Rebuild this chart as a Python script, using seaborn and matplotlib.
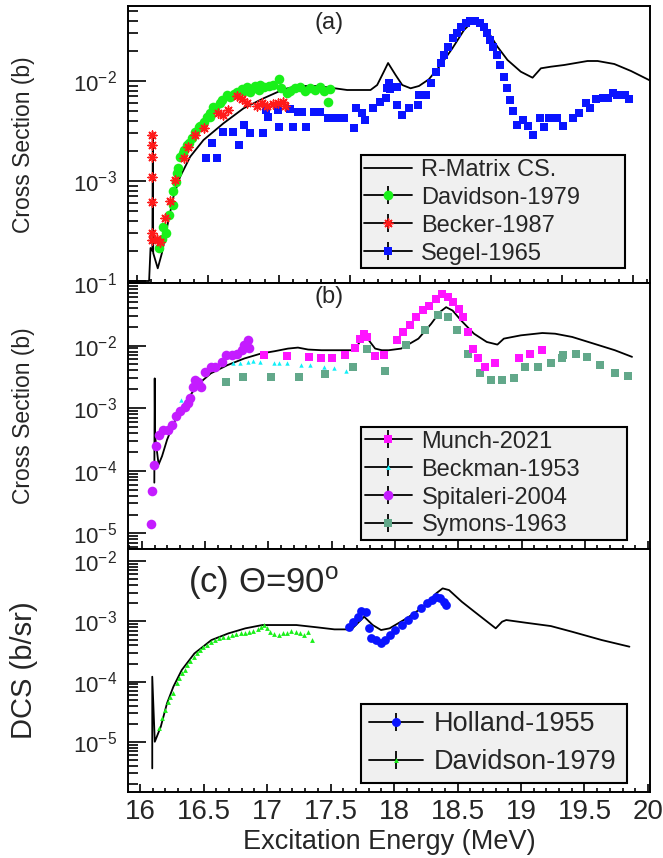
import numpy as np
import pandas as pd
import matplotlib
matplotlib.use("Agg")
import matplotlib.pyplot as plt
import seaborn as sns
from matplotlib.lines import Line2D
from matplotlib.legend_handler import HandlerTuple
from matplotlib.ticker import LogLocator, MultipleLocator, FuncFormatter, NullFormatter

# ---------------- data (energies in MeV, values as log10 of cross section) ----
# Panel (a)
rm_a_E = [15.94, 16.085, 16.095, 16.108, 16.111, 16.114, 16.146, 16.175, 16.222, 16.257, 16.304,
          16.375, 16.469, 16.610, 16.752, 16.893, 17.035, 17.129, 17.271, 17.365, 17.483, 17.648,
          17.695, 17.742, 17.772, 17.825, 17.872, 17.931, 17.99, 18.060, 18.143, 18.226, 18.308,
          18.367, 18.395, 18.438, 18.485, 18.544, 18.615, 18.709, 18.792, 18.851, 18.921, 19.015,
          19.180, 19.251, 19.369, 19.487, 19.628]
rm_a_log = [-4.0, -4.0, -3.67, -3.70, -2.52, -3.72, -3.873, -3.723, -3.39, -3.157, -2.957,
            -2.757, -2.59, -2.423, -2.273, -2.173, -2.083, -2.05, -2.05, -2.067, -2.09, -2.09,
            -2.04, -1.907, -1.82, -1.94, -2.04, -2.073, -2.05, -1.983, -1.84, -1.673, -1.49,
            -1.407, -1.39, -1.417, -1.523, -1.657, -1.79, -1.907, -1.967, -1.873, -1.857, -1.84,
            -1.80, -1.80, -1.83, -1.90, -2.0]

dav_a_E = [16.158, 16.175, 16.205, 16.186, 16.222, 16.252, 16.257, 16.276, 16.292, 16.304, 16.323,
           16.351, 16.387, 16.410, 16.434, 16.469, 16.493, 16.516, 16.552, 16.582, 16.634, 16.657,
           16.705, 16.740, 16.775, 16.811, 16.834, 16.870, 16.893, 16.929, 16.959, 16.999, 17.016,
           17.058, 17.082, 17.117, 17.153, 17.188, 17.223, 17.259, 17.294, 17.318, 17.346, 17.360,
           16.285, 16.332, 16.370, 16.446, 16.512, 16.535, 16.599, 16.681, 16.757, 16.794, 16.858]
dav_a_log = [-3.673, -3.583, -3.523, -3.457, -3.34, -3.24, -3.097, -3.007, -2.873, -2.757, -2.717,
             -2.64, -2.573, -2.507, -2.457, -2.407, -2.357, -2.317, -2.273, -2.217, -2.14, -2.163,
             -2.107, -2.083, -2.063, -2.083, -2.05, -2.04, -2.063, -2.05, -2.04, -1.983, -2.073,
             -2.123, -2.097, -2.073, -2.057, -2.097, -2.073, -2.09, -2.063, -2.097, -2.207, -2.083,
             -2.923, -2.69, -2.617, -2.45, -2.363, -2.263, -2.19, -2.13, -2.097, -2.107, -2.09]

bec_a_E = [16.104, 16.104, 16.104, 16.104, 16.104, 16.104, 16.104, 16.140, 16.164, 16.198, 16.233,
           16.269, 16.328, 16.363, 16.410, 16.469, 16.568, 16.606, 16.639, 16.705, 16.740, 16.775,
           16.846, 16.882, 16.917, 16.959, 16.992, 17.030, 17.047]
bec_a_log = [-2.54, -2.64, -2.757, -2.957, -3.207, -3.523, -3.59, -3.583, -3.607, -3.373, -3.197,
             -2.99, -2.773, -2.657, -2.54, -2.473, -2.323, -2.34, -2.29, -2.15, -2.183, -2.217,
             -2.25, -2.223, -2.25, -2.23, -2.217, -2.207, -2.25]

seg_a_E = [16.488, 16.563, 16.528, 16.606, 16.677, 16.717, 16.752, 16.794, 16.886, 16.912, 16.922,
           16.992, 16.999, 17.077, 17.101, 17.134, 17.167, 17.195, 17.247, 17.290, 17.346, 17.384,
           17.424, 17.459, 17.530, 17.549, 17.589, 17.608, 17.667, 17.714, 17.754, 17.761, 17.777,
           17.784, 17.836, 17.836, 17.872, 17.919, 17.982, 17.989, 18.037, 18.072, 18.107, 18.143,
           18.166, 18.195, 18.232, 18.261, 18.289, 18.320, 18.350, 18.383, 18.421, 18.449, 18.473,
           18.492, 18.515, 18.544, 18.563, 18.591, 18.615, 18.634, 18.657, 18.681, 18.721, 18.757,
           18.792, 18.846, 18.874, 18.910, 18.964, 19.004, 19.075, 19.122, 19.169, 19.200, 19.240,
           19.287, 19.322, 19.358, 19.389, 19.417, 19.445, 19.476]
seg_a_log = [-2.773, -2.773, -2.623, -2.507, -2.507, -2.64, -2.44, -2.523, -2.523, -2.29, -2.357,
             -2.29, -2.457, -2.283, -2.457, -2.307, -2.307, -2.457, -2.307, -2.307, -2.373, -2.373,
             -2.373, -2.373, -2.473, -2.273, -2.323, -2.39, -2.273, -2.207, -2.173, -2.073, -2.023,
             -2.083, -2.063, -2.24, -2.34, -2.273, -2.24, -2.14, -2.14, -2.023, -1.907, -1.823,
             -1.74, -1.657, -1.573, -1.523, -1.457, -1.417, -1.397, -1.397, -1.417, -1.457, -1.523,
             -1.59, -1.657, -1.74, -1.84, -1.957, -2.073, -2.19, -2.297, -2.44, -2.39, -2.45,
             -2.54, -2.373, -2.457, -2.373, -2.373, -2.45, -2.373, -2.323, -2.223, -2.273, -2.183,
             -2.173, -2.173, -2.123, -2.14, -2.14, -2.14, -2.183]

# Panel (b)
rm_b_E = [16.098, 16.101, 16.104, 16.132, 16.159, 16.199, 16.252, 16.305, 16.358, 16.438, 16.544,
          16.676, 16.809, 16.941, 17.048, 17.154, 17.233, 17.313, 17.419, 17.578, 17.657, 17.697,
          17.737, 17.764, 17.803, 17.843, 17.896, 17.95, 18.049, 18.185, 18.286, 18.353, 18.404,
          18.455, 18.522, 18.624, 18.725, 18.809, 18.86, 18.995, 19.164, 19.265, 19.40, 19.569,
          19.737, 19.873]
rm_b_log = [-4.19, -2.524, -3.45, -3.90, -3.767, -3.503, -3.238, -3.026, -2.868, -2.63, -2.444,
            -2.312, -2.206, -2.127, -2.09, -2.048, -2.032, -2.063, -2.074, -2.074, -2.074, -2.021,
            -1.889, -1.836, -1.942, -2.048, -2.074, -2.074, -2.048, -1.889, -1.651, -1.466, -1.386,
            -1.44, -1.598, -1.81, -1.942, -1.984, -1.889, -1.836, -1.799, -1.81, -1.862, -1.968,
            -2.074, -2.18]

mun_b_E = [16.968, 17.148, 17.318, 17.419, 17.504, 17.605, 17.684, 17.724, 17.751, 17.777, 17.838,
           17.910, 18.016, 18.066, 18.117, 18.168, 18.218, 18.269, 18.320, 18.371, 18.421, 18.461,
           18.505, 18.539, 18.573, 18.617, 18.657, 18.708, 18.792, 18.978, 19.063, 19.164]
mun_b_log = [-2.153, -2.169, -2.19, -2.206, -2.206, -2.153, -2.032, -1.889, -1.81, -1.862, -2.169,
             -2.153, -1.916, -1.782, -1.677, -1.544, -1.439, -1.36, -1.254, -1.175, -1.228, -1.307,
             -1.413, -1.544, -1.782, -2.048, -2.206, -2.339, -2.286, -2.206, -2.127, -2.074]

bkm_b_E = [16.31, 16.721, 16.774, 16.841, 16.88, 16.935, 17.041, 17.08, 17.15, 17.26, 17.33,
           17.44, 17.52, 17.616]
bkm_b_log = [-2.868, -2.286, -2.286, -2.259, -2.243, -2.259, -2.275, -2.286, -2.286, -2.312,
             -2.312, -2.339, -2.365, -2.402]

spi_b_E = [16.070, 16.083, 16.097, 16.110, 16.137, 16.164, 16.204, 16.236, 16.27, 16.297, 16.337,
           16.363, 16.376, 16.403, 16.416, 16.443, 16.469, 16.496, 16.549, 16.576, 16.629, 16.668,
           16.708, 16.748, 16.788, 16.809, 16.841, 16.847]
spi_b_log = [-4.852, -4.323, -3.915, -3.598, -3.423, -3.344, -3.344, -3.265, -3.132, -3.053, -2.974,
             -2.921, -2.841, -2.656, -2.55, -2.577, -2.656, -2.418, -2.339, -2.339, -2.259, -2.153,
             -2.153, -2.138, -2.074, -1.995, -1.915, -2.032]

sym_b_E = [16.668, 16.80, 17.021, 17.239, 17.446, 17.671, 17.777, 17.918, 18.083, 18.235, 18.336,
           18.421, 18.488, 18.573, 18.674, 18.758, 18.843, 18.944, 19.029, 19.13, 19.231, 19.316,
           19.33, 19.434, 19.519, 19.62, 19.737, 19.839]
sym_b_log = [-2.577, -2.497, -2.497, -2.497, -2.455, -2.339, -2.048, -2.402, -1.995, -1.757, -1.508,
             -1.544, -1.757, -2.127, -2.444, -2.55, -2.55, -2.524, -2.339, -2.339, -2.286, -2.206,
             -2.153, -2.127, -2.19, -2.312, -2.434, -2.487]

# Panel (c)
rm_c_E = [16.096, 16.096, 16.116, 16.163, 16.212, 16.262, 16.328, 16.428, 16.562, 16.695, 16.829,
          16.963, 17.231, 17.398, 17.531, 17.665, 17.765, 17.832, 17.898, 17.965, 18.099, 18.233,
          18.332, 18.383, 18.433, 18.534, 18.634, 18.801, 18.851, 18.884, 19.035, 19.235, 19.402,
          19.636, 19.854]
rm_c_log = [-5.438, -3.918, -4.997, -4.748, -4.36, -4.085, -3.808, -3.532, -3.31, -3.2, -3.116,
            -3.061, -3.061, -3.1, -3.133, -3.133, -2.923, -3.061, -3.144, -3.116, -2.95, -2.757,
            -2.536, -2.453, -2.481, -2.675, -2.841, -3.116, -3.006, -2.978, -3.022, -3.078, -3.172,
            -3.31, -3.42]

hol_c_E = [17.643, 17.676, 17.718, 17.743, 17.78, 17.80, 17.82, 17.86, 17.894, 17.93, 17.966,
           18.011, 18.06, 18.112, 18.16, 18.212, 18.262, 18.296, 18.33, 18.364, 18.39, 18.413]
hol_c_log = [-3.089, -3.006, -2.923, -2.824, -2.84, -3.116, -3.282, -3.31, -3.365, -3.31, -3.227,
             -3.144, -3.06, -2.978, -2.895, -2.785, -2.702, -2.647, -2.602, -2.62, -2.675, -2.73]

dav_c_E = [16.15, 16.173, 16.196, 16.223, 16.257, 16.29, 16.33, 16.373, 16.423, 16.474, 16.524,
           16.591, 16.657, 16.724, 16.791, 16.858, 16.925, 16.975, 17.025, 17.092, 17.159, 17.226,
           17.293, 17.353, 16.239, 16.306, 16.350, 16.397, 16.450, 16.497, 16.557, 16.624, 16.691,
           16.757, 16.824, 16.891, 16.952, 16.998, 17.058, 17.125, 17.192, 17.259, 17.319]
dav_c_log = [-4.775, -4.609, -4.471, -4.333, -4.194, -4.028, -3.862, -3.725, -3.587, -3.476, -3.393,
             -3.31, -3.255, -3.227, -3.2, -3.172, -3.133, -3.061, -3.172, -3.227, -3.188, -3.172,
             -3.227, -3.302, -4.25, -3.946, -3.808, -3.653, -3.531, -3.432, -3.338, -3.282, -3.255,
             -3.211, -3.188, -3.155, -3.1, -3.116, -3.211, -3.2, -3.155, -3.2, -3.172]

# ---------------- style ----------------
sns.set_theme(style="ticks")
plt.rcParams["font.family"] = ["Liberation Sans", "DejaVu Sans"]
plt.rcParams["mathtext.fontset"] = "custom"
plt.rcParams["mathtext.rm"] = "Liberation Sans"
plt.rcParams["mathtext.it"] = "Liberation Sans:italic"
plt.rcParams["mathtext.bf"] = "Liberation Sans:bold"

C_GREEN = "#19f019"
C_RED = "#ff1a1a"
C_BLUE = "#0a14ff"
C_MAG = "#ff14ff"
C_CYAN = "#10f0f8"
C_PURP = "#c41cff"
C_TEAL = "#62a88a"

W, H = 663, 858
fig = plt.figure(figsize=(W / 100, H / 100), dpi=100)
L, R = 128, 650


def add_ax(top, bottom):
    return fig.add_axes([L / W, 1 - bottom / H, (R - L) / W, (bottom - top) / H])


ax_a = add_ax(6, 283)
ax_b = add_ax(283, 549)
ax_c = add_ax(549, 792)


def df(E, lg):
    return pd.DataFrame({"E": E, "cs": 10.0 ** np.asarray(lg)})


def fmt(v, pos):
    e = int(round(np.log10(v)))
    return r"$\mathregular{10^{%d}}$" % e


for ax in (ax_a, ax_b, ax_c):
    ax.set_yscale("log")
    for s in ax.spines.values():
        s.set_linewidth(1.4)
        s.set_color("black")
    ax.yaxis.set_major_locator(LogLocator(base=10, numticks=20))
    ax.yaxis.set_minor_locator(LogLocator(base=10, subs=np.arange(2, 10), numticks=20))
    ax.yaxis.set_major_formatter(FuncFormatter(fmt))
    ax.yaxis.set_minor_formatter(NullFormatter())
    ax.xaxis.set_major_locator(MultipleLocator(0.5))
    ax.xaxis.set_minor_locator(MultipleLocator(0.1))
    ax.tick_params(axis="both", which="both", direction="in", right=False, top=False,
                   color="black", width=1.2)
    ax.tick_params(axis="y", which="major", length=13, labelsize=16, pad=8)
    ax.tick_params(axis="y", which="minor", length=7)
    ax.tick_params(axis="x", which="major", length=5.5, labelsize=20, pad=5)
    ax.tick_params(axis="x", which="minor", length=2.8)

LINE_KW = dict(color="black", linewidth=1.3, sort=False, estimator=None, legend=False)

# ---- panel (a)
sns.lineplot(data=df(rm_a_E, rm_a_log), x="E", y="cs", ax=ax_a, **LINE_KW)
sns.scatterplot(data=df(seg_a_E, seg_a_log), x="E", y="cs", ax=ax_a, marker="s", s=34,
                color=C_BLUE, linewidth=0, legend=False, zorder=3)
sns.scatterplot(data=df(dav_a_E, dav_a_log), x="E", y="cs", ax=ax_a, marker="o", s=48,
                color=C_GREEN, linewidth=0, legend=False, zorder=4)
sns.scatterplot(data=df(bec_a_E, bec_a_log), x="E", y="cs", ax=ax_a, marker=(8, 2, 0), s=40,
                color=C_RED, edgecolor=C_RED, linewidth=1.1, legend=False, zorder=5)
ax_a.set_xlim(15.936, 19.621)
ax_a.set_ylim(10 ** -4.02, 10 ** -1.25)
ax_a.yaxis.set_major_formatter(FuncFormatter(lambda v, p: "" if v < 5e-4 else fmt(v, p)))
ax_a.tick_params(axis="x", labelbottom=False)

# ---- panel (b)
sns.lineplot(data=df(rm_b_E, rm_b_log), x="E", y="cs", ax=ax_b, **LINE_KW)
sns.scatterplot(data=df(sym_b_E, sym_b_log), x="E", y="cs", ax=ax_b, marker="s", s=26,
                color=C_TEAL, linewidth=0, legend=False, zorder=3)
sns.scatterplot(data=df(mun_b_E, mun_b_log), x="E", y="cs", ax=ax_b, marker="s", s=34,
                color=C_MAG, linewidth=0, legend=False, zorder=4)
sns.scatterplot(data=df(bkm_b_E, bkm_b_log), x="E", y="cs", ax=ax_b, marker="^", s=10,
                color=C_CYAN, linewidth=0, legend=False, zorder=4)
sns.scatterplot(data=df(spi_b_E, spi_b_log), x="E", y="cs", ax=ax_b, marker="o", s=48,
                color=C_PURP, linewidth=0, legend=False, zorder=5)
ax_b.set_xlim(15.89, 20.015)
ax_b.set_ylim(10 ** -5.25, 0.1)
ax_b.tick_params(axis="x", labelbottom=False)

# ---- panel (c)
sns.lineplot(data=df(rm_c_E, rm_c_log), x="E", y="cs", ax=ax_c, **LINE_KW)
sns.scatterplot(data=df(hol_c_E, hol_c_log), x="E", y="cs", ax=ax_c, marker="o", s=40,
                color=C_BLUE, linewidth=0, legend=False, zorder=4)
sns.scatterplot(data=df(dav_c_E, dav_c_log), x="E", y="cs", ax=ax_c, marker="^", s=12,
                color=C_GREEN, linewidth=0, legend=False, zorder=4)
ax_c.set_xlim(15.905, 20.016)
ax_c.set_ylim(10 ** -5.83, 10 ** -1.8)
ax_c.xaxis.set_major_formatter(FuncFormatter(lambda v, p: ("%g" % v)))

# ---- labels
for ax in (ax_a, ax_b, ax_c):
    ax.set_xlabel("")
    ax.set_ylabel("")
ax_a.set_ylabel("Cross Section (b)", fontsize=16.5, va="center")
ax_b.set_ylabel("Cross Section (b)", fontsize=16.5, va="center")
ax_c.set_ylabel("DCS (b/sr)", fontsize=21, va="center")
for ax in (ax_a, ax_b, ax_c):
    ax.yaxis.set_label_coords(-(L - 24) / (R - L), 0.5)
ax_c.set_xlabel("Excitation Energy (MeV)", fontsize=19.5, labelpad=3)

ax_a.text(0.385, 0.94, "(a)", transform=ax_a.transAxes, ha="center", va="center", fontsize=17)
ax_b.text(0.385, 0.947, "(b)", transform=ax_b.transAxes, ha="center", va="center", fontsize=17)
ax_c.text(0.115, 0.86, r"(c) Θ=90$^{\mathrm{o}}$", transform=ax_c.transAxes, ha="left",
          va="center", fontsize=25)


# ---- legends
def dh(color, marker, ms, mew=0):
    return (Line2D([], [], color="black", lw=1.3),
            Line2D([], [], color="black", ls="none", marker="|", ms=13, mew=1.3),
            Line2D([], [], color=color, mec=color, ls="none", marker=marker, ms=ms, mew=mew))


LEG_KW = dict(frameon=True, fancybox=False, shadow=False, framealpha=1.0, edgecolor="black",
              facecolor="#f0f0f0", mode="expand", loc="lower left", borderaxespad=0,
              handlelength=2.0, handletextpad=0.4, handler_map={tuple: HandlerTuple(ndivide=1)})


def leg(ax, handles, labels, bbox, fs, spacing, bpad):
    lg = ax.legend(handles, labels, bbox_to_anchor=bbox, fontsize=fs, labelspacing=spacing,
                   borderpad=bpad, **LEG_KW)
    lg.get_frame().set_linewidth(1.5)
    return lg


leg(ax_a, [Line2D([], [], color="black", lw=1.3), dh(C_GREEN, "o", 7), dh(C_RED, (8, 2, 0), 7, 1.1),
           dh(C_BLUE, "s", 6)],
    ["R-Matrix CS.", "Davidson-1979", "Becker-1987", "Segel-1965"],
    (0.446, 0.054, 0.506, 0.408), 17, 0.25, 0.15)
leg(ax_b, [dh(C_MAG, "s", 6), dh(C_CYAN, "^", 3.5), dh(C_PURP, "o", 7), dh(C_TEAL, "s", 5.5)],
    ["Munch-2021", "Beckman-1953", "Spitaleri-2004", "Symons-1963"],
    (0.447, 0.034, 0.508, 0.425), 17, 0.25, 0.15)
leg(ax_c, [dh(C_BLUE, "o", 6.5), dh(C_GREEN, "^", 3.5)],
    ["Holland-1955", "Davidson-1979"],
    (0.447, 0.037, 0.508, 0.333), 19.5, 0.45, 0.28)

fig.savefig("out.png", dpi=100)
